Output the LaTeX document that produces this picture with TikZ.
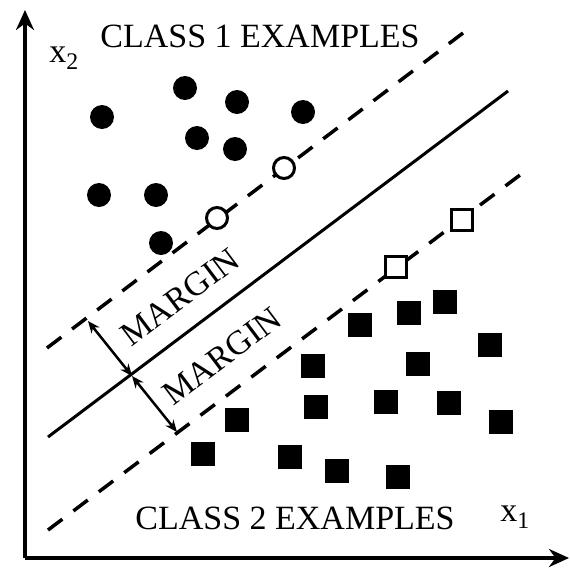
\documentclass[tikz,border=0pt]{standalone}
\usepackage{fontspec}
\setmainfont{Liberation Serif}
\usetikzlibrary{arrows.meta}

\begin{document}
\begin{tikzpicture}[x=1pt,y=-1pt,
  dot/.style={circle,fill,inner sep=0pt,minimum size=24pt},
  ring/.style={circle,draw,line width=3pt,fill=white,inner sep=0pt,minimum size=21pt},
  filledsq/.style={rectangle,fill,inner sep=0pt,minimum size=24pt},
  opensq/.style={rectangle,draw,line width=3pt,fill=white,inner sep=0pt,minimum size=21pt},
  label/.style={font=\fontsize{34}{40}\selectfont,inner sep=0pt},
  margin/.style={line width=3.5pt}]
\useasboundingbox (0,0) rectangle (570,568);
% axes
\coordinate (origin) at (25,558);
\coordinate (ytip) at (25,10);
\coordinate (xtip) at (569,558);
\draw[line width=4pt,-{Stealth[length=20pt,width=18pt]}] (origin) -- (ytip);
\draw[line width=4pt,-{Stealth[length=20pt,width=18pt]}] (origin) -- (xtip);
\node[label] (xtwo) at (64,58) {x\textsubscript{2}};
\node[label] (xone) at (515,517) {x\textsubscript{1}};
% separating line and margins
\coordinate (up0) at (47,348);
\coordinate (up1) at (463,33);
\coordinate (mid0) at (48,437);
\coordinate (mid1) at (508,91);
\coordinate (lo0) at (48,530);
\coordinate (lo1) at (520,175);
\draw[margin,dash pattern=on 18pt off 13.5pt] (up0) -- (up1);
\draw[line width=3pt] (mid0) -- (mid1);
\draw[margin,dash pattern=on 18pt off 13.8pt] (lo0) -- (lo1);
\coordinate (m1) at (88,321);
\coordinate (m0) at (132,376);
\coordinate (m2) at (177,432);
\draw[line width=2.5pt,{Stealth[length=12pt,width=10pt]}-{Stealth[length=12pt,width=10pt]}] (m1) -- (m0);
\draw[line width=2.5pt,{Stealth[length=12pt,width=10pt]}-{Stealth[length=12pt,width=10pt]}] (m0) -- (m2);
\node[label,rotate=37] (marginA) at (180,297) {MARGIN};
\node[label,rotate=37] (marginB) at (222,356) {MARGIN};
% class labels
\node[label] (class1) at (260,36) {CLASS 1 EXAMPLES};
\node[label] (class2) at (295,518) {CLASS 2 EXAMPLES};
% class 1 points
\node[dot] (c1) at (102,117) {};
\node[dot] (c2) at (185,88) {};
\node[dot] (c3) at (237,102) {};
\node[dot] (c4) at (303,112) {};
\node[dot] (c5) at (197,138) {};
\node[dot] (c6) at (235,149) {};
\node[dot] (c7) at (99,195) {};
\node[dot] (c8) at (156,195) {};
\node[dot] (c9) at (161,243) {};
\node[ring] (sv1) at (217,218) {};
\node[ring] (sv2) at (284,168) {};
% class 2 points
\node[opensq] (sv3) at (396,267) {};
\node[opensq] (sv4) at (462,220) {};
\node[filledsq] (q1) at (360,325) {};
\node[filledsq] (q2) at (409,313) {};
\node[filledsq] (q3) at (445,302) {};
\node[filledsq] (q4) at (490,345) {};
\node[filledsq] (q5) at (313,366) {};
\node[filledsq] (q6) at (418,364) {};
\node[filledsq] (q7) at (316,407) {};
\node[filledsq] (q8) at (386,402) {};
\node[filledsq] (q9) at (449,403) {};
\node[filledsq] (q10) at (501,422) {};
\node[filledsq] (q11) at (237,420) {};
\node[filledsq] (q12) at (203,454) {};
\node[filledsq] (q13) at (290,457) {};
\node[filledsq] (q14) at (337,471) {};
\node[filledsq] (q15) at (398,477) {};
\end{tikzpicture}
\end{document}
